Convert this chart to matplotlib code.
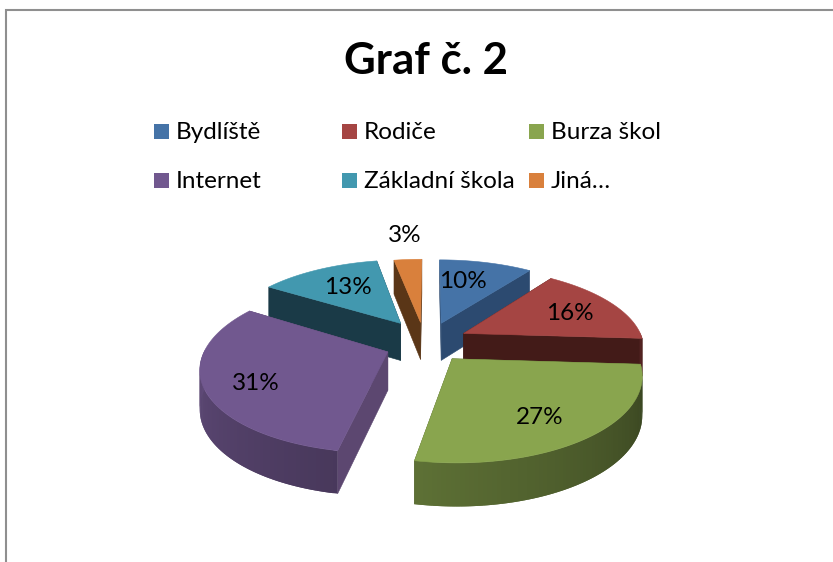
import numpy as np
import matplotlib
matplotlib.use("Agg")
import matplotlib.pyplot as plt
from matplotlib.collections import PolyCollection
from matplotlib.colors import to_rgb
from matplotlib.patches import Polygon, Rectangle

# Data
categories = ["Bydlíště", "Rodiče", "Burza škol", "Internet", "Základní škola", "Jiná…"]
percent_values = [10, 16, 27, 31, 13, 3]
title_text = "Graf č. 2"

# Style
top_colors = ["#4573a7", "#a54543", "#89a54e", "#71588f", "#4298af", "#d9803c"]
cut_colors = ["#2c4a70", "#431b18", "#4a5a2a", "#5c4770", "#1a3a47", "#5a3617"]
rim_from = [0.6, 0.5, 0.40, 0.64, 0.45, 0.6]   # brightness at slice start angle
rim_to = [0.6, 0.5, 0.68, 0.92, 0.45, 0.6]     # brightness at slice end angle
explode = [0.21, 0.21, 0.21, 0.25, 0.24, 0.21]
nudge_x = [0, 0, -0.01, 0, -0.035, -0.035]
draw_order = [5, 0, 4, 1, 3, 2]
label_xy = [(463, 281), (570, 313), (540, 417), (256, 383), (348, 287), (405, 235)]
legend_xy = [(154, 124), (342, 124), (529, 124), (154, 173), (342, 173), (529, 173)]

CX, CY, RX, RY, K, DEPTH, EY = 430, 342, 180, 80, 0.17, 38, 1.22
FONT = ["Lato", "DejaVu Sans"]

fig = plt.figure(figsize=(8.33, 5.62), dpi=100)
ax = fig.add_axes([0, 0, 1, 1])
ax.set_xlim(0, 833)
ax.set_ylim(562, 0)
ax.axis("off")

ax.plot([6, 6, 833], [562, 10, 10], color="#8f8f8f", lw=1.5, solid_joinstyle="miter")


def project(x, y, z=0.0):
    s = 1 / (1 + K * y)
    return CX + RX * x * s, CY - RY * y * s + z * DEPTH * s ** 0.6


fractions = np.array(percent_values) / sum(percent_values)
edges = np.concatenate([[0], np.cumsum(fractions)]) * 2 * np.pi

for order, i in enumerate(draw_order):
    a0, a1 = edges[i], edges[i + 1]
    mid = (a0 + a1) / 2
    ox = explode[i] * np.sin(mid) + nudge_x[i]
    oy = explode[i] * EY * np.cos(mid)
    angles = np.linspace(a0, a1, max(int((a1 - a0) * 50), 4))
    xs = ox + np.sin(angles)
    ys = oy + np.cos(angles)

    # radial cut faces
    for a in (a0, a1):
        ex, ey = ox + np.sin(a), oy + np.cos(a)
        face = [project(ox, oy), project(ex, ey), project(ex, ey, 1), project(ox, oy, 1)]
        ax.add_patch(Polygon(face, closed=True, fc=cut_colors[i], ec=cut_colors[i], lw=0.4, zorder=2 + order))

    # outer rim, shaded along the arc; only the part that faces the viewer
    quads, shades = [], []
    base = np.array(to_rgb(top_colors[i]))
    n = len(angles) - 1
    for j in range(n):
        if np.cos(angles[j]) >= 0 and np.cos(angles[j + 1]) >= 0:
            continue
        k = min(j + 2, n)
        quads.append([project(xs[j], ys[j]), project(xs[k], ys[k]),
                      project(xs[k], ys[k], 1), project(xs[j], ys[j], 1)])
        b = rim_from[i] + (rim_to[i] - rim_from[i]) * j / max(n - 1, 1)
        shades.append(np.clip(base * b, 0, 1))
    if quads:
        ax.add_collection(PolyCollection(quads, facecolors=shades, edgecolors="none", zorder=2.2 + order))

    # top surface
    top = [project(ox, oy)] + [project(x, y) for x, y in zip(xs, ys)]
    ax.add_patch(Polygon(top, closed=True, fc=top_colors[i], ec=top_colors[i], lw=0.4, zorder=2.5 + order))

for pct, (lx, ly) in zip(percent_values, label_xy):
    ax.text(lx, ly, f"{pct}%", ha="center", va="center", fontsize=17.5, family=FONT, color="black", zorder=20)

ax.text(426, 61, title_text, ha="center", va="center", fontsize=31.5, fontweight="bold", family=FONT, color="black")

for name, color, (mx, my) in zip(categories, top_colors, legend_xy):
    ax.add_patch(Rectangle((mx, my), 15, 15, fc=color, ec="none"))
    ax.text(mx + 22, my + 8.5, name, ha="left", va="center", fontsize=17.5, family=FONT, color="black")

fig.savefig("out.png", dpi=100)
